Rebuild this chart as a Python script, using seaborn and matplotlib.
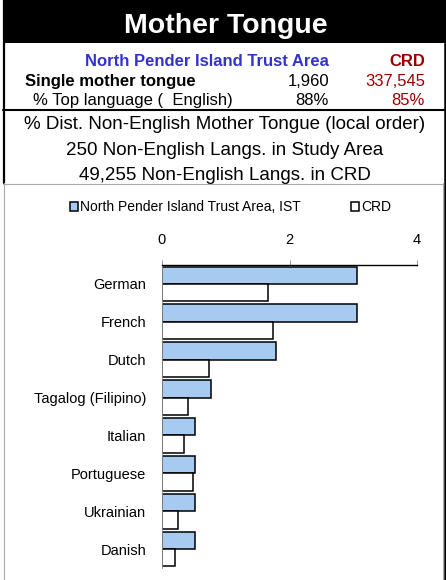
import numpy as np
import pandas as pd
import matplotlib
matplotlib.use("Agg")
import matplotlib.pyplot as plt
from matplotlib.patches import Rectangle
from matplotlib.lines import Line2D
import seaborn as sns

# data
languages = ["German", "French", "Dutch", "Tagalog (Filipino)", "Italian",
             "Portuguese", "Ukrainian", "Danish"]
local_pct = [3.06, 3.06, 1.79, 0.77, 0.51, 0.51, 0.51, 0.51]
crd_pct = [1.67, 1.74, 0.74, 0.41, 0.34, 0.48, 0.25, 0.21]
series_names = ["North Pender Island Trust Area, IST", "CRD"]
x_ticks = [0, 2, 4]

local_name = "North Pender Island Trust Area"
local_total = "1,960"
crd_total = "337,545"
local_top = "88%"
crd_top = "85%"
info_lines = ["% Dist. Non-English Mother Tongue (local order)",
              "250 Non-English Langs. in Study Area",
              "49,255 Non-English Langs. in CRD"]

df = pd.DataFrame({
    "lang": languages * 2,
    "series": [series_names[0]] * len(languages) + [series_names[1]] * len(languages),
    "pct": local_pct + crd_pct,
})

sns.set_style("white")
plt.rcParams["font.family"] = ["Liberation Sans", "DejaVu Sans"]
plt.rcParams["text.color"] = "black"

W, H = 446, 580
fig = plt.figure(figsize=(W / 100, H / 100), dpi=100)

def fx(px):
    return px / W

def fy(py):
    return 1 - py / H

blue_txt = "#3333CC"
red_txt = "#990000"
grey = "#AAAAAA"

# header band and frame lines
fig.patches.append(Rectangle((fx(3), fy(43)), fx(443), 43 / H, transform=fig.transFigure,
                             facecolor="black", edgecolor="none", zorder=0))
fig.lines.append(Line2D([fx(4), fx(4)], [fy(0), fy(183)], transform=fig.transFigure, color="black", lw=1.6))
fig.lines.append(Line2D([fx(445), fx(445)], [fy(0), fy(580)], transform=fig.transFigure, color="black", lw=1.8))
fig.lines.append(Line2D([fx(3), fx(446)], [fy(110), fy(110)], transform=fig.transFigure, color="black", lw=1.5))
fig.lines.append(Line2D([fx(3), fx(443)], [fy(183.5), fy(183.5)], transform=fig.transFigure, color=grey, lw=0.8))
fig.lines.append(Line2D([fx(3.5), fx(3.5)], [fy(183), fy(580)], transform=fig.transFigure, color=grey, lw=0.8))
fig.lines.append(Line2D([fx(443), fx(443)], [fy(183), fy(580)], transform=fig.transFigure, color=grey, lw=0.8))

fig.text(fx(226), fy(33), "Mother Tongue", color="white", fontsize=20.5, fontweight="bold",
         ha="center", va="baseline")

# summary rows
fig.text(fx(329), fy(66), local_name, color=blue_txt, fontsize=12, fontweight="bold", ha="right", va="baseline")
fig.text(fx(425), fy(66), "CRD", color=red_txt, fontsize=12, fontweight="bold", ha="right", va="baseline")
fig.text(fx(25), fy(86), "Single mother tongue", color="black", fontsize=12, fontweight="bold", ha="left", va="baseline")
fig.text(fx(329), fy(86), local_total, color="black", fontsize=12, ha="right", va="baseline")
fig.text(fx(425), fy(86), crd_total, color=red_txt, fontsize=12, ha="right", va="baseline")
fig.text(fx(33), fy(105), "% Top language (  English)", color="black", fontsize=12, ha="left", va="baseline")
fig.text(fx(329), fy(105), local_top, color="black", fontsize=12, ha="right", va="baseline")
fig.text(fx(425), fy(105), crd_top, color=red_txt, fontsize=12, ha="right", va="baseline")

for yy, line in zip([129, 155, 180], info_lines):
    fig.text(fx(225), fy(yy), line, color="black", fontsize=13.5, ha="center", va="baseline")

# bar chart
ax = fig.add_axes([fx(162), fy(568), fx(417) - fx(162), fy(265) - fy(568)])
sns.barplot(data=df, y="lang", x="pct", hue="series", orient="h", order=languages,
            hue_order=series_names, palette={series_names[0]: "#A6CAF0", series_names[1]: "white"},
            saturation=1, edgecolor="black", linewidth=1.1, width=0.92, ax=ax)

ax.set_xlim(0, 4)
ax.set_ylim(7.5, -0.5)
ax.set_xticks(x_ticks)
ax.xaxis.tick_top()
ax.tick_params(axis="x", direction="out", length=3.6, width=0.6, color="#888888", pad=9,
               labelsize=10.5, labelcolor="black")
ax.tick_params(axis="y", length=0, pad=11.5, labelsize=10.5, labelcolor="black")
ax.set_xlabel("")
ax.set_ylabel("")
for side in ["right", "bottom"]:
    ax.spines[side].set_visible(False)
ax.spines["top"].set_color("black")
ax.spines["top"].set_linewidth(1.0)
ax.spines["left"].set_color("#888888")
ax.spines["left"].set_linewidth(0.6)

handles, labels = ax.get_legend_handles_labels()
leg = ax.legend(handles, labels, loc="center left", bbox_to_anchor=(fx(70), fy(207)),
                bbox_transform=fig.transFigure, ncol=2, frameon=False, fontsize=10,
                handlelength=0.6, handleheight=0.6, handletextpad=0.15, columnspacing=3.6,
                borderpad=0, borderaxespad=0)
for t in leg.get_texts():
    t.set_color("black")

fig.savefig("out.png", dpi=100)
